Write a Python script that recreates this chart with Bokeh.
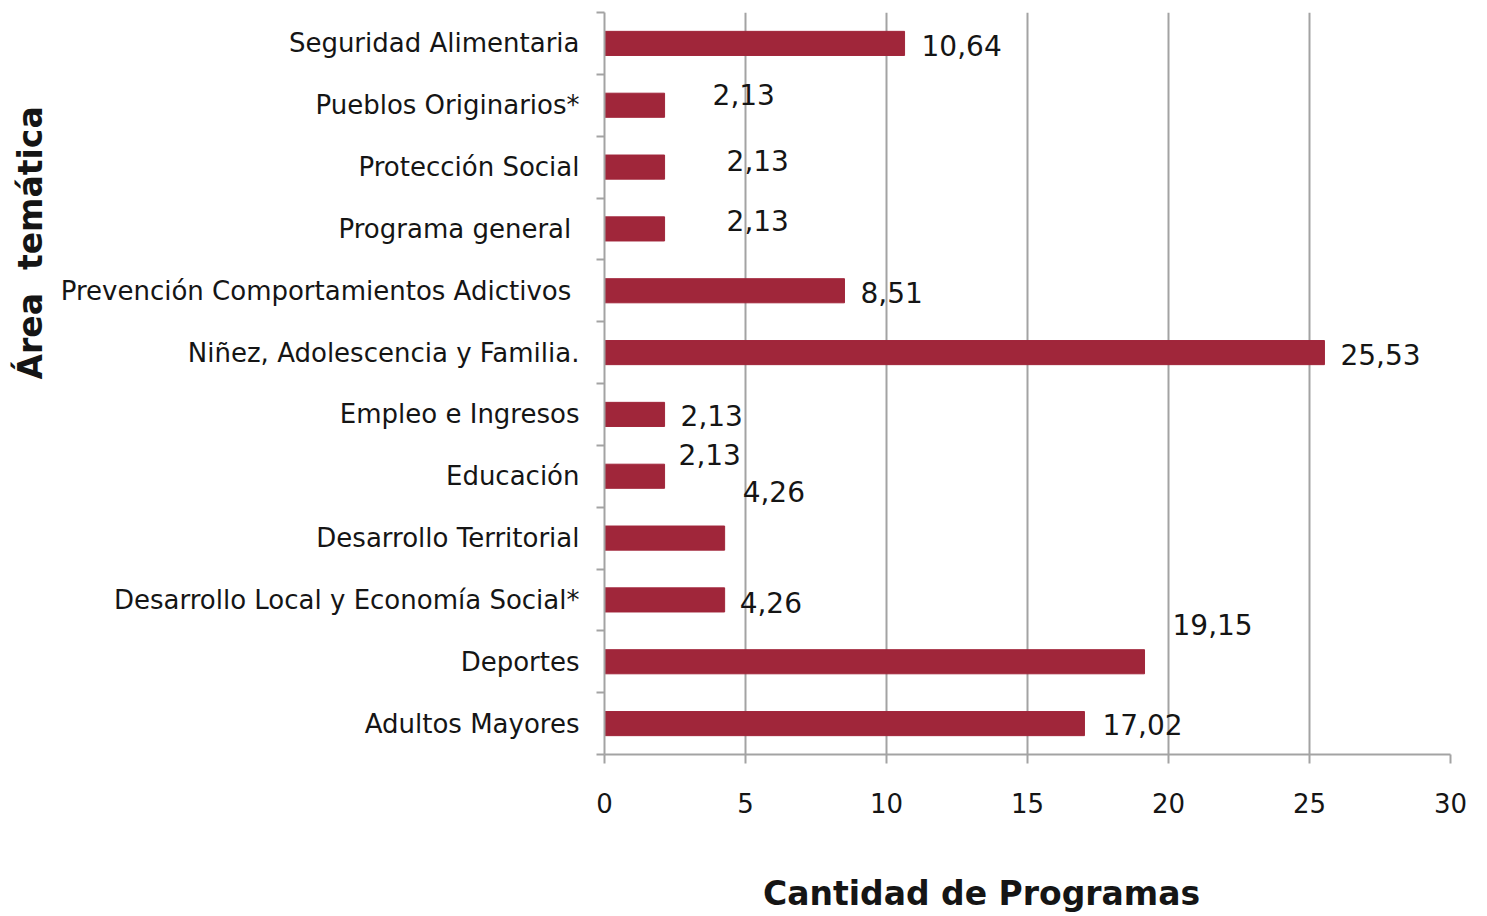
from bokeh.plotting import figure
from bokeh.models import ColumnDataSource, FixedTicker, Range1d, Title
from bokeh.core.properties import value
from bokeh.embed import file_html
from bokeh.resources import INLINE

# ---- data (bottom to top) ----
categories = [
    "Adultos Mayores",
    "Deportes",
    "Desarrollo Local y Economía Social*",
    "Desarrollo Territorial",
    "Educación",
    "Empleo e Ingresos",
    "Niñez, Adolescencia y Familia.",
    "Prevención Comportamientos Adictivos\u00a0",
    "Programa general\u00a0",
    "Protección Social",
    "Pueblos Originarios*",
    "Seguridad Alimentaria",
]
values = [17.02, 19.15, 4.26, 4.26, 2.13, 2.13, 25.53, 8.51, 2.13, 2.13, 2.13, 10.64]
x_ticks = [0, 5, 10, 15, 20, 25, 30]

# label placement offsets in pixels (style, as in the original chart)
label_dx = [18, 28, 15, 18, 14, 16, 16, 16, 62, 62, 48, 17]
label_dy = [1, -37, 3, -47, -22, 1, 2, 2, -8, -7, -11, 2]

FONT = "DejaVu Sans"
GRAY = "#a3a3a3"
TXT = "#151515"

pos = list(range(1, len(categories) + 1))
src = ColumnDataSource(dict(
    pos=pos,
    val=values,
    lbl=[f"{v:.2f}".replace(".", ",") for v in values],
    dx=label_dx,
    dy=label_dy,
))

p = figure(width=1487, height=916, output_backend="svg", toolbar_location=None,
           title=None,
           x_range=Range1d(0, 30), y_range=Range1d(0.5, len(categories) + 0.5),
           min_border_left=604, min_border_right=37, min_border_top=12,
           min_border_bottom=162)
p.outline_line_color = None
p.background_fill_color = "white"
p.border_fill_color = "white"

p.hbar(y="pos", right="val", left=0, height=0.39, source=src,
       fill_color="#a0263a", line_color="#a0263a")

p.text(x="val", y="pos", text="lbl", x_offset="dx", y_offset="dy", source=src,
       text_align="left", text_baseline="middle",
       text_font=value(FONT), text_font_size="28px", text_color=TXT)

# y axis: labels at category centres, ticks at boundaries
ya = p.yaxis[0]
ya.ticker = FixedTicker(ticks=pos, minor_ticks=[i + 0.5 for i in range(0, len(categories) + 1)])
ya.major_label_overrides = {i: c for i, c in zip(pos, categories)}
ya.major_tick_out = 0
ya.major_tick_in = 0
ya.minor_tick_out = 8
ya.minor_tick_in = 0
ya.minor_tick_line_color = GRAY
ya.minor_tick_line_width = 2
ya.axis_line_color = GRAY
ya.axis_line_width = 2
ya.major_label_standoff = 17
ya.major_label_text_font = FONT
ya.major_label_text_font_size = "26px"
ya.major_label_text_color = TXT
p.ygrid.visible = False

xa = p.xaxis[0]
xa.ticker = FixedTicker(ticks=x_ticks)
xa.major_tick_out = 9
xa.major_tick_in = 0
xa.minor_tick_out = 0
xa.minor_tick_in = 0
xa.major_tick_line_color = GRAY
xa.major_tick_line_width = 2
xa.axis_line_color = GRAY
xa.axis_line_width = 2
xa.major_label_standoff = 29
xa.major_label_text_font = FONT
xa.major_label_text_font_size = "26px"
xa.major_label_text_color = TXT
xa.axis_label = "Cantidad de Programas" + "\u00a0" * 8
xa.axis_label_standoff = 58
xa.axis_label_text_font = FONT
xa.axis_label_text_font_size = "33px"
xa.axis_label_text_font_style = "bold"
xa.axis_label_text_color = TXT
p.xgrid.grid_line_color = GRAY
p.xgrid.grid_line_width = 2

p.add_layout(Title(text="Área\u00a0 temática", align="left", offset=375,
                   text_font=FONT, text_font_size="33px", text_font_style="bold",
                   text_color=TXT, standoff=15), "left")

open("out.html", "w").write(file_html(p, INLINE))
